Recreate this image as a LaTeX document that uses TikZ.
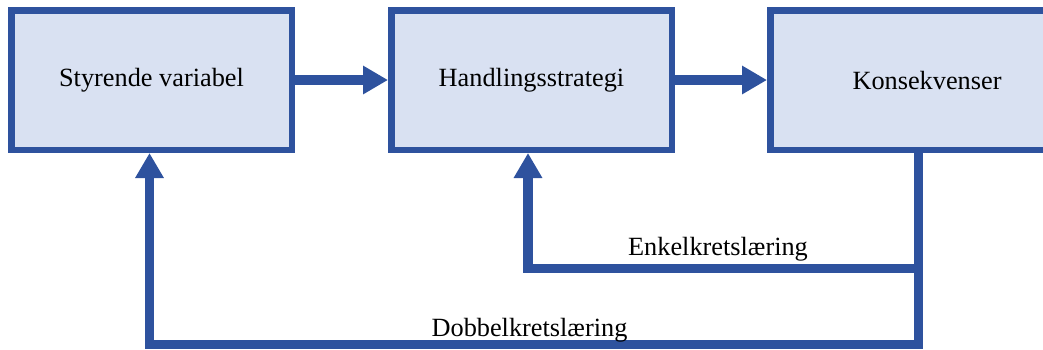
\documentclass[tikz,border=0pt]{standalone}
\usepackage{fontspec}
\setmainfont{Liberation Serif}
\usetikzlibrary{arrows.meta}
\definecolor{boxfill}{RGB}{217,225,242}
\definecolor{boxline}{RGB}{46,82,158}
\begin{document}
\begin{tikzpicture}[x=1pt,y=-1pt,
  box/.style={draw=boxline,fill=boxfill,line width=6.5pt,rectangle,
    minimum height=139.5pt,inner sep=0pt,
    font=\fontsize{26.3}{30}\selectfont},
  conn/.style={draw=boxline,line width=9.5pt,line join=miter,
    -{Triangle[length=25pt,width=27pt]}},
  lbl/.style={anchor=base,inner sep=0pt,font=\fontsize{26.3}{30}\selectfont}]
\clip (0,0) rectangle (1043,349);
\node[box,minimum width=280.5pt] (b1) at (151.5,80) {Styrende variabel};
\node[box,minimum width=280.5pt] (b2) at (531.5,80) {Handlingsstrategi};
\node[box,minimum width=313.5pt] (b3) at (927,80) {Konsekvenser};
\draw[conn] (b1.east) -- (b2.west);
\draw[conn] (b2.east) -- (b3.west);
\coordinate (r1) at (918.5,268.5);
\coordinate (l1) at (528,268.5);
\coordinate (r2) at (918.5,344.5);
\coordinate (l2) at (149.5,344.5);
\draw[conn] (r1 |- b3.south) -- (r1) -- (l1) -- (l1 |- b2.south);
\draw[conn] (r1 |- b3.south) -- (r2) -- (l2) -- (l2 |- b1.south);
\node[lbl] (t1) at (718,255) {Enkelkretslæring};
\node[lbl] (t2) at (529.5,336) {Dobbelkretslæring};
\end{tikzpicture}
\end{document}
